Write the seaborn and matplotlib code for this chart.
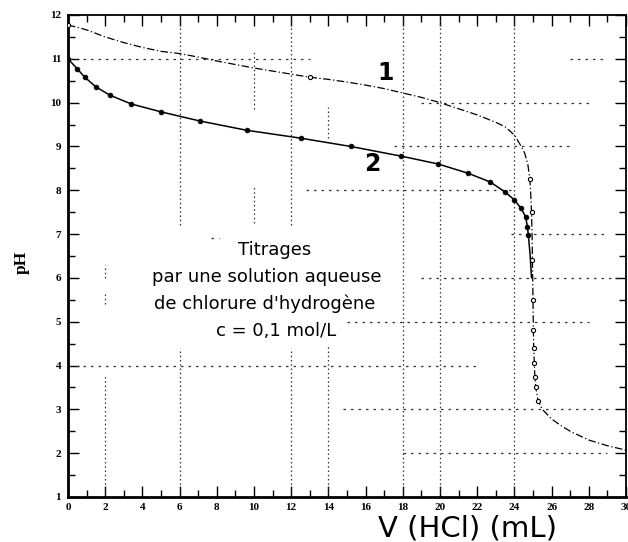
import matplotlib
matplotlib.use("Agg")
import matplotlib.pyplot as plt
import pandas as pd
import seaborn as sns

# Titration curve 1 (dash-dot, open circles)
v1 = [0.0, 0.5, 1.0, 2.0, 3.0, 4.0, 5.0, 6.0, 7.0, 8.0,
      9.0, 10.0, 11.0, 12.0, 13.0, 14.0, 15.0, 16.0, 17.0, 18.0,
      19.0, 20.0, 21.0, 22.0, 23.0, 23.5, 24.0, 24.3, 24.55, 24.72,
      24.83, 24.88, 24.92, 24.95, 24.97, 25.0, 25.02, 25.04, 25.07, 25.1,
      25.15, 25.27, 25.5, 26.0, 26.5, 27.0, 28.0, 29.0, 30.0]
ph1 = [11.77, 11.72, 11.66, 11.50, 11.37, 11.26, 11.17, 11.12, 11.04, 10.95,
       10.87, 10.79, 10.72, 10.65, 10.58, 10.53, 10.47, 10.40, 10.32, 10.22,
       10.12, 10.00, 9.86, 9.72, 9.55, 9.45, 9.26, 9.05, 8.85, 8.60,
       8.25, 7.90, 7.50, 7.00, 6.40, 5.50, 4.80, 4.40, 4.05, 3.75,
       3.50, 3.20, 3.00, 2.78, 2.63, 2.50, 2.30, 2.17, 2.07]
marked1 = [True, False, False, False, False, False, False, False, False, False,
           False, False, False, False, True, False, False, False, False, False,
           False, False, False, False, False, False, False, False, False, False,
           True, False, True, False, True, True, True, True, True, True,
           True, True, False, False, False, False, False, False, False]

# Titration curve 2 (solid, filled dots)
v2 = [0.0, 0.5, 0.9, 1.5, 2.25, 3.4, 5.0, 7.1, 9.6, 12.5, 15.2, 17.9,
      19.9, 21.5, 22.7, 23.5, 24.0, 24.35, 24.6, 24.7, 24.75, 24.85, 24.92]
ph2 = [11.0, 10.77, 10.58, 10.36, 10.17, 9.97, 9.79, 9.58, 9.37, 9.19, 9.0, 8.78,
       8.6, 8.39, 8.19, 7.96, 7.78, 7.59, 7.4, 7.17, 6.98, 6.5, 6.0]
marked2 = [True] * 21 + [False, False]

x_ticks = list(range(0, 31, 2))
x_tick_labels = [str(t) for t in x_ticks]
y_ticks = list(range(1, 13))
y_tick_labels = [str(t) for t in y_ticks]

annotation_lines = ["Titrages",
                    "par une solution aqueuse",
                    "de chlorure d'hydrogène",
                    "c = 0,1 mol/L"]

# Partial dotted reference lines: (x, y_start, y_end) and (y, x_start, x_end)
vertical_guides = [(2, 1, 3.8), (2, 5.4, 5.65), (2, 6.0, 6.3),
                   (6, 1, 4.4), (6, 7.2, 12),
                   (10, 7.25, 8.1), (10, 9.85, 11.2),
                   (12, 1, 4.4), (12, 7.2, 12),
                   (14, 1, 4.5), (14, 9.2, 9.9),
                   (18, 1, 12), (20, 1, 12), (24, 1, 12)]
horizontal_guides = [(11, 0, 13), (11, 27, 28.8), (10, 19, 28), (9, 17.5, 27.2),
                     (8, 12.8, 24), (7, 23.8, 28.8), (6.92, 7.7, 8.1),
                     (6, 19, 29.7), (5, 15, 28), (4, 0, 22), (3, 14.8, 29.2),
                     (2, 18, 29)]

sns.set_theme(style="white")
plt.rcParams["font.family"] = ["DejaVu Sans"]

fig = plt.figure(figsize=(6.28, 5.42), dpi=100)
ax = fig.add_axes([68 / 628, 45 / 542, 558 / 628, 482 / 542])

for x, y0, y1 in vertical_guides:
    ax.vlines(x, y0, y1, colors="0.2", linewidth=0.9, linestyles=(0, (1.2, 2.2)), zorder=1)
for y, x0, x1 in horizontal_guides:
    ax.hlines(y, x0, x1, colors="0.2", linewidth=0.9, linestyles=(0, (2, 4)), zorder=1)

df1 = pd.DataFrame({"V": v1, "pH": ph1, "marked": marked1})
df2 = pd.DataFrame({"V": v2, "pH": ph2, "marked": marked2})

sns.lineplot(data=df1, x="V", y="pH", sort=False, estimator=None, ax=ax,
             color="black", linewidth=0.9, linestyle=(0, (6, 2, 1, 2)), zorder=3)
sns.scatterplot(data=df1[df1["marked"]], x="V", y="pH", ax=ax, marker="o", s=9,
                facecolor="white", edgecolor="black", linewidth=0.8, zorder=4)

sns.lineplot(data=df2, x="V", y="pH", sort=False, estimator=None, ax=ax,
             color="black", linewidth=1.1, zorder=3)
sns.scatterplot(data=df2[df2["marked"]], x="V", y="pH", ax=ax, marker="o", s=12,
                color="black", edgecolor="black", linewidth=0.5, zorder=4)

ax.set_xlim(0, 30)
ax.set_ylim(1, 12)
ax.set_xticks(x_ticks)
ax.set_xticklabels(x_tick_labels)
ax.set_xticks(range(0, 31), minor=True)
ax.set_yticks(y_ticks)
ax.set_yticklabels(y_tick_labels)
ax.set_yticks([y + 0.5 for y in range(1, 12)], minor=True)

ax.tick_params(which="both", direction="in", top=True, right=True,
               bottom=True, left=True, color="black", width=1.0)
ax.tick_params(which="major", length=8)
ax.tick_params(which="minor", length=5)
ax.tick_params(axis="x", pad=4)
ax.tick_params(axis="y", pad=5)
for lbl in ax.get_xticklabels() + ax.get_yticklabels():
    lbl.set_fontfamily("Liberation Serif")
    lbl.set_fontweight("bold")
    lbl.set_fontsize(8)
    lbl.set_color("black")

for side, lw in (("left", 2.0), ("bottom", 2.0), ("top", 1.3), ("right", 1.3)):
    ax.spines[side].set_visible(True)
    ax.spines[side].set_color("black")
    ax.spines[side].set_linewidth(lw)

ax.set_xlabel("V (HCl) (mL)", fontsize=21, color="black", va="center")
ax.xaxis.set_label_coords((467 - 68) / 558, (497 - 528) / 482)
ax.set_ylabel("pH", fontsize=12.5, fontfamily="Liberation Serif",
              fontweight="bold", color="black", va="center", ha="center")
ax.yaxis.set_label_coords((22 - 68) / 558, (497 - 262) / 482)

text_pos = [(275, 250), (267, 277), (265, 304), (276, 331)]
for line, (px, py) in zip(annotation_lines, text_pos):
    ax.text((px - 68) / 558, (497 - py) / 482, line, transform=ax.transAxes,
            ha="center", va="center", fontsize=13, color="black")

ax.text((386 - 68) / 558, (497 - 73) / 482, "1", transform=ax.transAxes,
        ha="center", va="center", fontsize=17, fontweight="bold", color="black")
ax.text((372 - 68) / 558, (497 - 164) / 482, "2", transform=ax.transAxes,
        ha="center", va="center", fontsize=17, fontweight="bold", color="black")

fig.savefig("out.png", dpi=100, facecolor="white")
